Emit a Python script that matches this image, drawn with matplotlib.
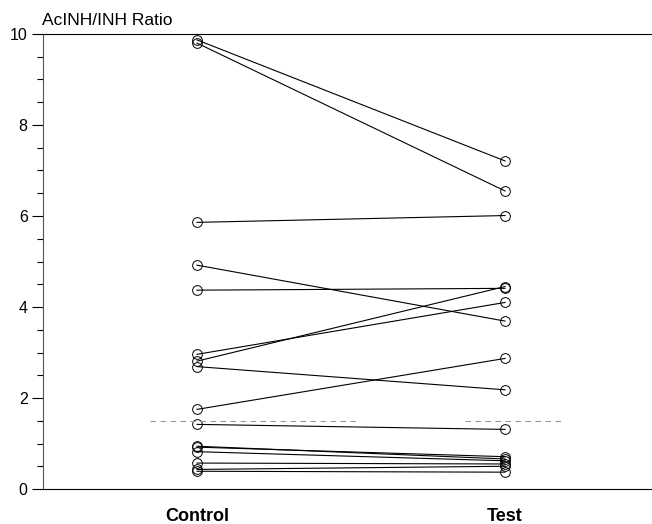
import matplotlib
matplotlib.use("Agg")
import matplotlib.pyplot as plt
from matplotlib.ticker import MultipleLocator

plt.rcParams['font.family'] = ['Liberation Sans', 'DejaVu Sans']

groups = ['Control', 'Test']
# paired AcINH/INH ratios, one entry per subject
control = [9.87, 9.80, 5.86, 4.92, 4.37, 2.96, 2.81, 2.69, 1.75, 1.42,
           0.94, 0.92, 0.82, 0.57, 0.43, 0.39]
test = [7.21, 6.55, 6.01, 3.69, 4.41, 4.10, 4.45, 2.18, 2.87, 1.31,
        0.66, 0.71, 0.62, 0.55, 0.50, 0.37]
cutoff = 1.5

fig = plt.figure(figsize=(6.52, 5.24), dpi=100)
ax = fig.add_axes([43 / 652, 1 - 489 / 524, 609 / 652, 455 / 524])

for c, t in zip(control, test):
    ax.plot([0, 1], [c, t], color='black', lw=0.8, marker='o', ms=7,
            mfc='none', mec='black', mew=0.7)

# dashed reference segments at the cutoff
ax.plot([-0.153, 0.523], [cutoff, cutoff], color='#999999', lw=0.8, ls=(0, (5, 4)))
ax.plot([0.87, 1.195], [cutoff, cutoff], color='#999999', lw=0.8, ls=(0, (5, 4)))

ax.set_xlim(-0.5, 1.477)
ax.set_ylim(0, 10)
ax.set_xticks([0, 1])
ax.set_xticklabels(groups, fontweight='bold', fontsize=13)
ax.tick_params(axis='x', length=0, pad=14)
ax.yaxis.set_major_locator(MultipleLocator(2))
ax.yaxis.set_minor_locator(MultipleLocator(0.5))
ax.tick_params(axis='y', which='major', length=8, width=0.8, labelsize=11.5, pad=3)
ax.tick_params(axis='y', which='minor', length=4, width=0.8)
ax.spines['right'].set_visible(False)
for s in ['left', 'top', 'bottom']:
    ax.spines[s].set_linewidth(0.8)
ax.spines['left'].set_color('#555555')
ax.spines['left'].set_bounds(0, 10)

fig.text(42 / 652, 1 - 25 / 524, 'AcINH/INH Ratio', fontsize=12.5, va='baseline', ha='left')

fig.savefig('out.png', dpi=100)
